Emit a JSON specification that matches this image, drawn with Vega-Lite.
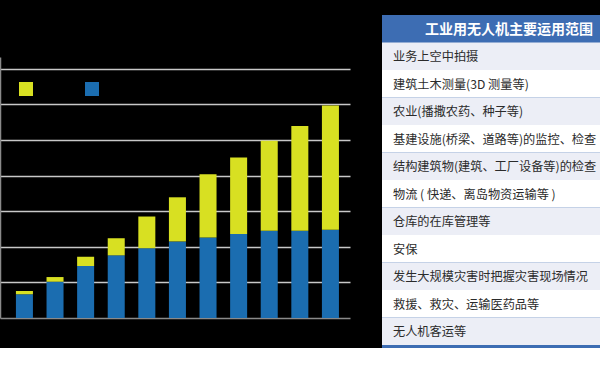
{
  "$schema": "https://vega.github.io/schema/vega-lite/v6.json",
  "background": "#000000",
  "padding": {"top": 15, "left": 0, "right": 0, "bottom": 0},
  "spacing": 32,
  "config": {"view": {"stroke": null}, "font": "Noto Sans CJK SC"},
  "datasets": {
    "market": [
      {"year": "2016", "segment": "机体", "ord": 1, "value": 67},
      {"year": "2016", "segment": "服务", "ord": 2, "value": 9},
      {"year": "2017", "segment": "机体", "ord": 1, "value": 102},
      {"year": "2017", "segment": "服务", "ord": 2, "value": 13},
      {"year": "2018", "segment": "机体", "ord": 1, "value": 146},
      {"year": "2018", "segment": "服务", "ord": 2, "value": 26},
      {"year": "2019", "segment": "机体", "ord": 1, "value": 176},
      {"year": "2019", "segment": "服务", "ord": 2, "value": 48},
      {"year": "2020", "segment": "机体", "ord": 1, "value": 196},
      {"year": "2020", "segment": "服务", "ord": 2, "value": 89},
      {"year": "2021", "segment": "机体", "ord": 1, "value": 215},
      {"year": "2021", "segment": "服务", "ord": 2, "value": 124},
      {"year": "2022", "segment": "机体", "ord": 1, "value": 226},
      {"year": "2022", "segment": "服务", "ord": 2, "value": 178},
      {"year": "2023", "segment": "机体", "ord": 1, "value": 236},
      {"year": "2023", "segment": "服务", "ord": 2, "value": 215},
      {"year": "2024", "segment": "机体", "ord": 1, "value": 245},
      {"year": "2024", "segment": "服务", "ord": 2, "value": 253},
      {"year": "2025", "segment": "机体", "ord": 1, "value": 245},
      {"year": "2025", "segment": "服务", "ord": 2, "value": 294},
      {"year": "2026", "segment": "机体", "ord": 1, "value": 248},
      {"year": "2026", "segment": "服务", "ord": 2, "value": 349}
    ],
    "uses": [
      {"row": 0, "label": "工业用无人机主要运用范围"},
      {"row": 1, "label": "业务上空中拍摄"},
      {"row": 2, "label": "建筑土木测量(3D 测量等)"},
      {"row": 3, "label": "农业(播撒农药、种子等)"},
      {"row": 4, "label": "基建设施(桥梁、道路等)的监控、检查"},
      {"row": 5, "label": "结构建筑物(建筑、工厂设备等)的检查"},
      {"row": 6, "label": "物流 ( 快递、离岛物资运输等 )"},
      {"row": 7, "label": "仓库的在库管理等"},
      {"row": 8, "label": "安保"},
      {"row": 9, "label": "发生大规模灾害时把握灾害现场情况"},
      {"row": 10, "label": "救援、救灾、运输医药品等"},
      {"row": 11, "label": "无人机客运等"}
    ]
  },
  "hconcat": [
    {
      "width": 350,
      "height": 333,
      "data": {"name": "market"},
      "mark": {"type": "bar"},
      "encoding": {
        "x": {
          "field": "year",
          "type": "nominal",
          "axis": null,
          "scale": {"paddingInner": 0.444, "paddingOuter": 0.441, "align": 0.59}
        },
        "y": {
          "field": "value",
          "type": "quantitative",
          "stack": "zero",
          "scale": {"domain": [0, 733], "range": [303, 42], "nice": false},
          "axis": {
            "values": [0, 100, 200, 300, 400, 500, 600, 700],
            "grid": true,
            "gridColor": {"condition": {"test": "datum.value === 0", "value": "#8a8a8a"}, "value": "#c8c8c8"},
            "gridWidth": 1.5,
            "domain": true,
            "domainColor": "#8a8a8a",
            "domainWidth": 1.5,
            "labels": false,
            "ticks": false,
            "title": null
          }
        },
        "color": {
          "field": "segment",
          "type": "nominal",
          "scale": {"domain": ["服务", "机体"], "range": ["#d8e022", "#1b6db0"]},
          "legend": {
            "title": null,
            "orient": "none",
            "legendX": 19,
            "legendY": 67,
            "direction": "horizontal",
            "symbolType": "square",
            "symbolSize": 196,
            "symbolStrokeWidth": 0,
            "symbolOpacity": 1,
            "labelExpr": "''",
            "labelOffset": 0,
            "labelFontSize": 1,
            "columnPadding": 52,
            "padding": 0
          }
        },
        "order": {"field": "ord", "type": "quantitative"}
      }
    },
    {
      "width": 218,
      "height": 333,
      "data": {"name": "uses"},
      "view": {"fill": "#3d6db3", "stroke": null},
      "encoding": {
        "y": {
          "field": "row",
          "type": "ordinal",
          "axis": null,
          "scale": {"range": [0, 330], "paddingInner": 0, "paddingOuter": 0}
        }
      },
      "layer": [
        {
          "transform": [{"filter": "datum.row >= 1"}],
          "mark": {"type": "rect"},
          "encoding": {
            "fill": {"condition": {"test": "datum.row % 2 === 1", "value": "#eceef6"}, "value": "#ffffff"}
          }
        },
        {
          "transform": [{"filter": "datum.row >= 1"}],
          "mark": {"type": "text", "align": "left", "baseline": "middle", "dx": 11, "dy": 1, "fontSize": 12.2, "color": "#2b2b2b"},
          "encoding": {
            "x": {"datum": 0, "type": "quantitative", "scale": {"domain": [0, 1]}, "axis": null},
            "text": {"field": "label"}
          }
        },
        {
          "transform": [{"filter": "datum.row === 0"}],
          "mark": {"type": "text", "align": "right", "baseline": "middle", "dx": -7, "dy": 1, "fontSize": 14, "fontWeight": "bold", "color": "#ffffff"},
          "encoding": {
            "x": {"datum": 1, "type": "quantitative", "scale": {"domain": [0, 1]}, "axis": null},
            "text": {"field": "label"}
          }
        }
      ]
    }
  ]
}
